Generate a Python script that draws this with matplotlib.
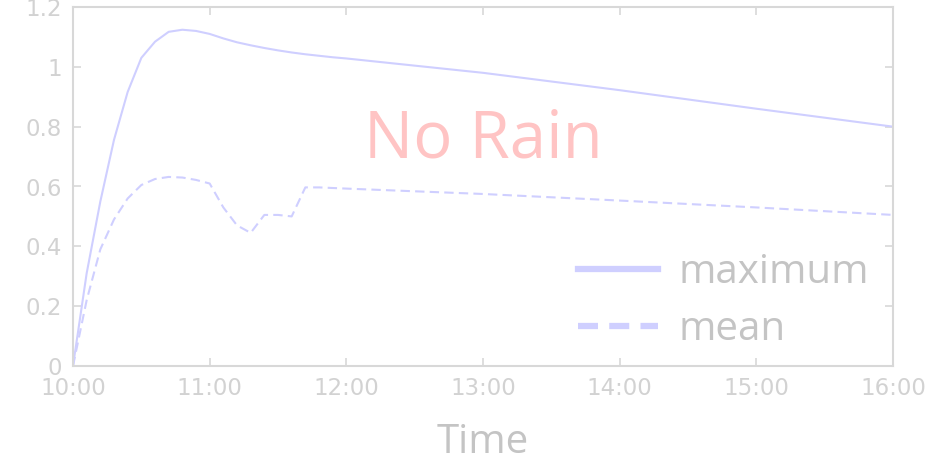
import matplotlib
matplotlib.use("Agg")
import matplotlib.pyplot as plt
from matplotlib.lines import Line2D
from matplotlib.ticker import FixedLocator, FixedFormatter

# hours after start of run (10:00) and normalised intensity
hours = [0.0, 0.1, 0.2, 0.3, 0.4, 0.5, 0.6, 0.7, 0.8, 0.9, 1.0,
         1.1, 1.2, 1.3, 1.4, 1.5, 1.6, 1.7, 1.8, 1.9, 2.0,
         3.0, 4.0, 5.0, 6.0]
maximum = [0.0, 0.31, 0.55, 0.756, 0.916, 1.03, 1.084, 1.117, 1.124, 1.12, 1.11,
           1.095, 1.082, 1.072, 1.063, 1.055, 1.048, 1.042, 1.037, 1.032, 1.028,
           0.98, 0.922, 0.86, 0.80]
mean = [0.0, 0.22, 0.39, 0.49, 0.56, 0.605, 0.625, 0.632, 0.63, 0.622, 0.61,
        0.53, 0.47, 0.445, 0.505, 0.505, 0.50, 0.597, 0.597, 0.595, 0.593,
        0.575, 0.553, 0.53, 0.505]

xticks = [0, 1, 2, 3, 4, 5, 6]
xticklabels = ["10:00", "11:00", "12:00", "13:00", "14:00", "15:00", "16:00"]
yticks = [0, 0.2, 0.4, 0.6, 0.8, 1.0, 1.2]
yticklabels = ["0", "0.2", "0.4", "0.6", "0.8", "1", "1.2"]

LINE = "#cfcfff"
AXIS = "#d8d8d8"
TICK_TXT = "#d2d2d2"
LABEL_TXT = "#c4c4c4"
NOTE = "#ffc4c4"

fig = plt.figure(figsize=(9.33, 4.69), dpi=100)
ax = fig.add_axes([73 / 933, 1 - 366 / 469, 820 / 933, 359 / 469])

ax.plot(hours, maximum, color=LINE, lw=1.5, solid_capstyle="round")
ax.plot(hours, mean, color=LINE, lw=1.5, ls=(0, (4.5, 2.5)))

ax.set_xlim(0, 6)
ax.set_ylim(0, 1.2)
ax.xaxis.set_major_locator(FixedLocator(xticks))
ax.xaxis.set_major_formatter(FixedFormatter(xticklabels))
ax.yaxis.set_major_locator(FixedLocator(yticks))
ax.yaxis.set_major_formatter(FixedFormatter(yticklabels))

for s in ax.spines.values():
    s.set_color(AXIS)
    s.set_linewidth(1.5)
ax.tick_params(direction="in", length=6, width=1.2, color=AXIS,
               labelcolor=TICK_TXT, labelsize=16.5, pad=8,
               top=True, right=True)

ax.set_xlabel("Time", family="Open Sans", fontsize=29, color=LABEL_TXT,
              labelpad=16)

ax.text(3.0, 0.755, "No Rain", family="Open Sans", fontsize=47, color=NOTE,
        ha="center", va="center")

# partly clipped exponent marker above the axis
fig.text(78 / 933, 1 - 4 / 469, r"$\times10^{-5}$", fontsize=15,
         color=TICK_TXT, ha="left", va="bottom")

handles = [Line2D([], [], color=LINE, lw=4.5),
           Line2D([], [], color=LINE, lw=4.5, ls=(0, (3.2, 1.8)))]
leg = ax.legend(handles, ["maximum", "mean"], loc="lower right",
                bbox_to_anchor=(1.015, -0.056), frameon=False,
                prop={"family": "Open Sans", "size": 29},
                handlelength=2.0, handletextpad=0.5, labelspacing=0.4)
for t in leg.get_texts():
    t.set_color(LABEL_TXT)

fig.savefig("out.png", dpi=100)
